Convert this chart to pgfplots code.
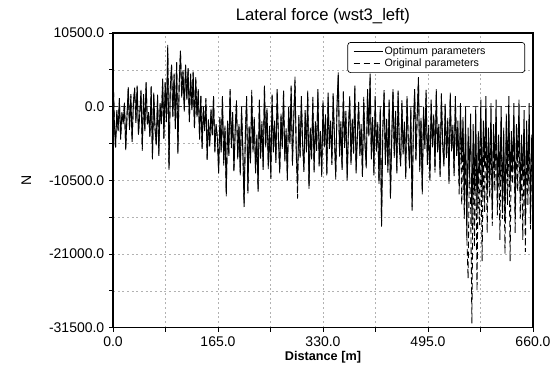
\documentclass[border=0pt]{standalone}
\usepackage{fontspec}
\setmainfont{Liberation Sans}
\usepackage{pgfplots}
\usepackage{pgfplotstable}
\pgfplotsset{compat=1.18}
\pgfplotstableread{
x a b
0 5000 5200
2 -2000 -1800
4 -5800 -6000
6 -500 -700
8 -3500 -3300
10 1200 1000
12 -4500 -4700
14 -800 -1000
16 -2500 -2200
18 500 700
20 -6200 -6000
22 -1200 -1400
24 2800 2500
26 -3000 -3300
28 1500 1800
30 -5000 -4800
32 500 300
34 2500 2700
36 -2000 -2300
38 3000 2800
40 -4000 -3800
42 -1000 -1200
44 2200 2400
46 -6000 -6300
48 1800 1500
50 -3500 -3200
52 3500 3300
54 -2500 -2700
56 -1000 -800
58 -4200 -4400
60 2800 3000
62 -7500 -7300
64 2000 1800
66 -3000 -3200
68 -5500 -5300
70 1500 1700
72 -6800 -7000
74 500 300
76 -2500 -2300
78 4000 3800
80 -4500 -4700
82 3500 3300
84 -2000 -2200
86 8800 8600
88 -9000 -8800
90 2500 2700
92 6000 5800
94 -1500 -1300
96 4500 4700
98 -3000 -3200
100 6300 6500
102 -6700 -6500
104 3000 3200
106 8000 7800
108 1500 1300
110 5000 5200
112 -500 -700
114 6000 5800
116 1000 1200
118 5500 5300
120 -2000 -2200
122 4500 4700
124 -500 -300
126 5000 4800
128 -3000 -3200
130 4000 4200
132 -1500 -1300
134 2500 2300
136 -4500 -4700
138 1500 1700
140 -6000 -5800
142 0 -200
144 -3500 -3300
146 1000 1200
148 -7400 -7600
150 -2000 -1800
152 -5500 -5700
154 -500 -300
156 -4000 -4200
158 1500 1300
160 -6500 -6300
162 -2500 -2700
164 -4500 -4300
166 -9500 -9200
168 -1500 -1800
170 -6500 -6200
172 1500 1200
174 -8000 -8400
176 -3000 -2700
178 -12800 -12300
180 -2000 -2400
182 -7000 -6700
184 2500 2200
186 -5500 -5900
188 -1000 -700
190 -9000 -9400
192 -3500 -3200
194 500 900
196 -7500 -7100
198 -2500 -2900
200 -9800 -9500
202 0 -400
204 -6000 -6300
206 -14300 -13800
208 -4000 -3600
210 1500 1100
212 -12000 -12400
214 -3000 -2600
216 -8000 -8300
218 2000 2400
220 -6500 -6100
222 -1500 -1900
224 -9500 -9200
226 -4000 -4300
228 -12100 -11700
230 1000 700
232 -7000 -7400
234 -2500 -2100
236 -9000 -8700
238 3000 2600
240 -5500 -5800
242 -500 -200
244 -8500 -8900
246 -3000 -2700
248 -10000 -10300
250 1500 1900
252 -6500 -6200
254 -2000 -2400
256 -8000 -7700
258 2500 2200
260 -4500 -4900
262 -9500 -9100
264 -1000 -1400
266 -6000 -5700
268 2000 2400
270 -7500 -7800
272 -3500 -3100
274 -10500 -10200
276 0 -400
278 -5000 -5300
280 3000 2700
282 -8000 -8400
284 -2000 -1600
286 3500 4300
288 -6500 -6800
290 -11000 -13100
292 -1500 -1200
294 -7000 -7400
296 1500 1100
298 -5500 -5200
300 -9000 -9300
302 -500 -900
304 -6500 -6100
306 2000 2300
308 -11700 -11300
310 -3000 -3400
312 -7500 -7200
314 1000 1400
316 -9000 -9400
318 -2500 -2100
320 -6000 -6300
322 2500 2100
324 -8500 -8200
326 -3500 -3900
328 -10000 -9600
330 500 900
332 -5500 -5800
334 -1500 -1100
336 -9500 -9900
338 2000 1600
340 -6000 -5700
342 -2000 -2400
344 -8000 -8300
346 1500 1900
348 -4500 -4200
350 -10000 -10400
352 0 400
354 4900 4400
356 -7000 -7300
358 -2500 -2100
360 -9000 -8700
362 2000 2400
364 -5500 -5900
366 -1000 -600
368 -10500 -10100
370 -3000 -3400
372 1500 1100
374 -8000 -8300
376 -2000 -1700
378 -6500 -6900
380 3000 2600
382 -9500 -9200
384 -4000 -4400
386 500 900
388 -7000 -6700
390 -2500 -2900
392 -10000 -9700
394 1000 1400
396 -5500 -5100
398 -8500 -8800
400 2500 2100
402 -4000 -4400
404 4700 4300
406 -7500 -7100
408 -1500 -1900
410 -9500 -9800
412 1500 1200
414 -6000 -6400
416 -2500 -2200
418 -11000 -10600
420 0 -400
422 -17100 -16500
424 -3500 -3100
426 2000 2400
428 -8000 -8300
430 -2000 -1600
432 -9000 -9400
434 1000 600
436 -13100 -12600
438 -4500 -4900
440 2500 2100
442 -7000 -7300
444 -1000 -600
446 -9500 -9100
448 2000 2300
450 -5500 -5900
452 -8500 -8200
454 500 900
456 -6500 -6800
458 -2500 -2100
460 -10000 -10300
462 1500 1100
464 -5000 -4700
466 -8500 -8800
468 -500 -100
470 -14800 -14300
472 -3000 -3400
474 2500 2100
476 -7500 -7800
478 -1500 -1100
480 4200 3800
482 -9000 -9300
484 -2000 -1600
486 -12500 -12000
488 0 -400
490 -6000 -5700
492 2000 2400
494 -8000 -8300
496 -3000 -2600
498 -10500 -10100
500 1000 600
502 -5500 -5800
504 -1500 -1100
506 -9000 -9400
508 2500 2100
510 -6500 -6200
512 -2500 -2900
514 -10000 -9700
516 1500 1900
518 -5000 -5400
520 -8500 -8200
522 0 400
524 -7000 -7300
526 -2000 -1600
528 -11000 -10700
530 2000 1600
532 -6000 -6400
534 -3000 -2600
536 -9500 -9900
538 1500 1100
540 -7000 -6700
542 -2000 -4000
544 -11000 -12500
546 500 -1000
548 -8000 -14000
550 -1500 -3000
552 -13500 -16000
554 0 -5000
556 -18800 -18500
558 -3000 -24500
560 -10000 -8000
562 -1000 -14000
564 -17000 -30900
566 -2500 -6000
568 -12000 -20000
570 0 -4000
572 -15000 -26300
574 -3500 -8000
576 -9500 -17000
578 1000 -3000
580 -13000 -22000
582 -2000 -6000
584 -8500 -15000
586 1500 -2000
588 -12500 -18000
590 -3000 -5000
592 -10500 -13000
594 500 -2500
596 -15000 -17000
598 -2500 -4000
600 -9000 -12000
602 1000 -1500
604 -13000 -15500
606 -4000 -5500
608 -11000 -19000
610 0 -2000
612 -14500 -16000
614 -3000 -6000
616 -16500 -21000
618 -1000 -3500
620 -10000 -14000
622 1500 -2000
624 -12000 -22000
626 -3500 -6000
628 -9000 -11000
630 500 -2500
632 -15500 -18000
634 -2500 -5000
636 -8000 -12000
638 1000 -1500
640 -13000 -16000
642 -4000 -6500
644 -10500 -19000
646 -500 -3000
648 -16000 -20700
650 -2000 -5000
652 -11000 -14000
654 500 -2500
656 -15500 -17500
658 -4000 -6000
660 -9000 -11000
}\datatable
\begin{document}
\begin{tikzpicture}
\useasboundingbox (-84.75pt,-31.5pt) rectangle (331.5pt,245.75pt);
\begin{axis}[
  scale only axis,
  width=315pt, height=221pt,
  xmin=0, xmax=660, ymin=-31500, ymax=10500,
  xtick={0,165,330,495,660},
  ytick={-31500,-21000,-10500,0,10500},
  scaled y ticks=false, scaled x ticks=false,
  minor x tick num=1, minor y tick num=1,
  grid=both,
  major grid style={gray!60, dash pattern=on 1.5pt off 2pt, line width=0.4pt},
  minor grid style={gray!60, dash pattern=on 1.5pt off 2pt, line width=0.4pt},
  extra y ticks={0},
  extra y tick labels={},
  extra y tick style={grid=major, major grid style={black!75, dash pattern=on 4pt off 2pt, line width=0.5pt}},
  tick align=outside,
  xtick pos=left, ytick pos=left,
  major tick length=3pt, minor tick length=3pt,
  tick style={black, line width=0.5pt},
  axis line style={line width=0.8pt},
  /pgf/number format/assume math mode=true,
  /pgf/number format/.cd, fixed, fixed zerofill, precision=1, 1000 sep={},
  /pgfplots/.cd,
  tick label style={font=\fontsize{10.5}{12}\selectfont},
  title={Lateral force (wst3\_left)},
  title style={font=\fontsize{12.5}{15}\selectfont, anchor=base, at={(axis description cs:0.5,1)}, yshift=3.5pt},
  xlabel={Distance [m]},
  xlabel style={font=\bfseries\fontsize{9.5}{11}\selectfont, anchor=base, at={(axis description cs:0.5,0)}, yshift=-24.5pt},
  ylabel={N},
  ylabel style={font=\fontsize{10.5}{12}\selectfont, anchor=center, at={(axis description cs:0,0.5)}, yshift=65pt},
  legend style={at={(0.981,0.969)}, anchor=north east, font=\fontsize{8}{9}\selectfont, draw=black, line width=0.5pt, rounded corners=2pt, inner xsep=4pt, inner ysep=1pt, row sep=-2pt, nodes={text width=100pt, align=left, inner xsep=1pt}},
  legend cell align=left,
  legend image code/.code={\draw[#1] (0pt,0pt) -- (22pt,0pt);},
]
\addplot[black, line width=0.65pt] table[x=x, y=a] {\datatable};
\addlegendentry{Optimum parameters}
\addplot[black, line width=0.65pt, dash pattern=on 5pt off 2.5pt] table[x=x, y=b] {\datatable};
\addlegendentry{Original parameters}
\end{axis}
\end{tikzpicture}
\end{document}
